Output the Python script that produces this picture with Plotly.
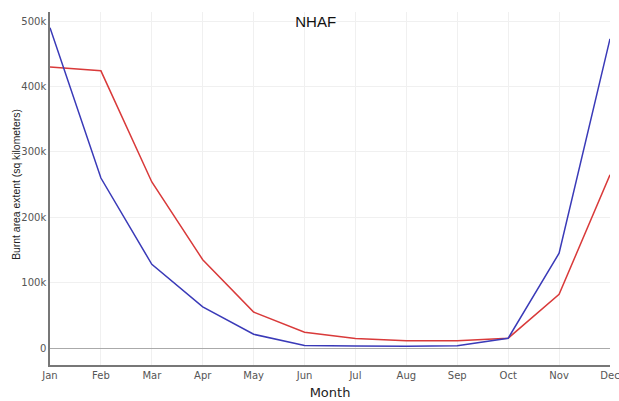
import plotly.graph_objects as go

months = ["Jan", "Feb", "Mar", "Apr", "May", "Jun", "Jul", "Aug", "Sep", "Oct", "Nov", "Dec"]
series_blue = [490000, 260000, 128000, 63000, 21000, 4000, 3000, 2500, 3500, 15000, 145000, 473000]
series_red = [430000, 424000, 254000, 135000, 55000, 24000, 14500, 11000, 11000, 15000, 82000, 265000]

fig = go.Figure()
fig.add_trace(go.Scatter(x=months, y=series_red, mode="lines",
                         line=dict(color="#d93a3a", width=1.5), showlegend=False))
fig.add_trace(go.Scatter(x=months, y=series_blue, mode="lines",
                         line=dict(color="#3a3ab8", width=1.5), showlegend=False))

fig.update_layout(
    width=619, height=401,
    margin=dict(l=50, r=9, t=12, b=36, autoexpand=False),
    paper_bgcolor="white", plot_bgcolor="white",
    title=dict(text="NHAF", x=0.51, xanchor="center", y=0.945, yanchor="middle",
               font=dict(family="Liberation Sans, Arial", size=15, color="#111")),
    xaxis=dict(
        range=[0, 11], showgrid=True, gridcolor="#f0f0f0", automargin=False,
        showline=True, linecolor="#777", linewidth=1.5,
        tickfont=dict(family="DejaVu Sans, Verdana", size=10, color="#555"),
        title=dict(text="Month", font=dict(family="DejaVu Sans, Verdana", size=13, color="#222"),
                   standoff=8),
    ),
    yaxis=dict(
        range=[-26000, 514000], tickvals=[0, 100000, 200000, 300000, 400000, 500000],
        ticktext=["0", "100k", "200k", "300k", "400k", "500k"],
        showgrid=True, gridcolor="#f0f0f0", automargin=False,
        zeroline=True, zerolinecolor="#aaa", zerolinewidth=1,
        showline=True, linecolor="#777", linewidth=1.5,
        tickfont=dict(family="DejaVu Sans, Verdana", size=10, color="#555"),
    ),
    annotations=[dict(
        text="Burnt area extent (sq kilometers)", textangle=-90,
        xref="paper", yref="paper", x=-0.059, y=0.513, xanchor="center", yanchor="middle",
        showarrow=False, font=dict(family="Liberation Sans, Arial", size=10.4, color="#222"),
    )],
)

fig.write_html("out.html")
